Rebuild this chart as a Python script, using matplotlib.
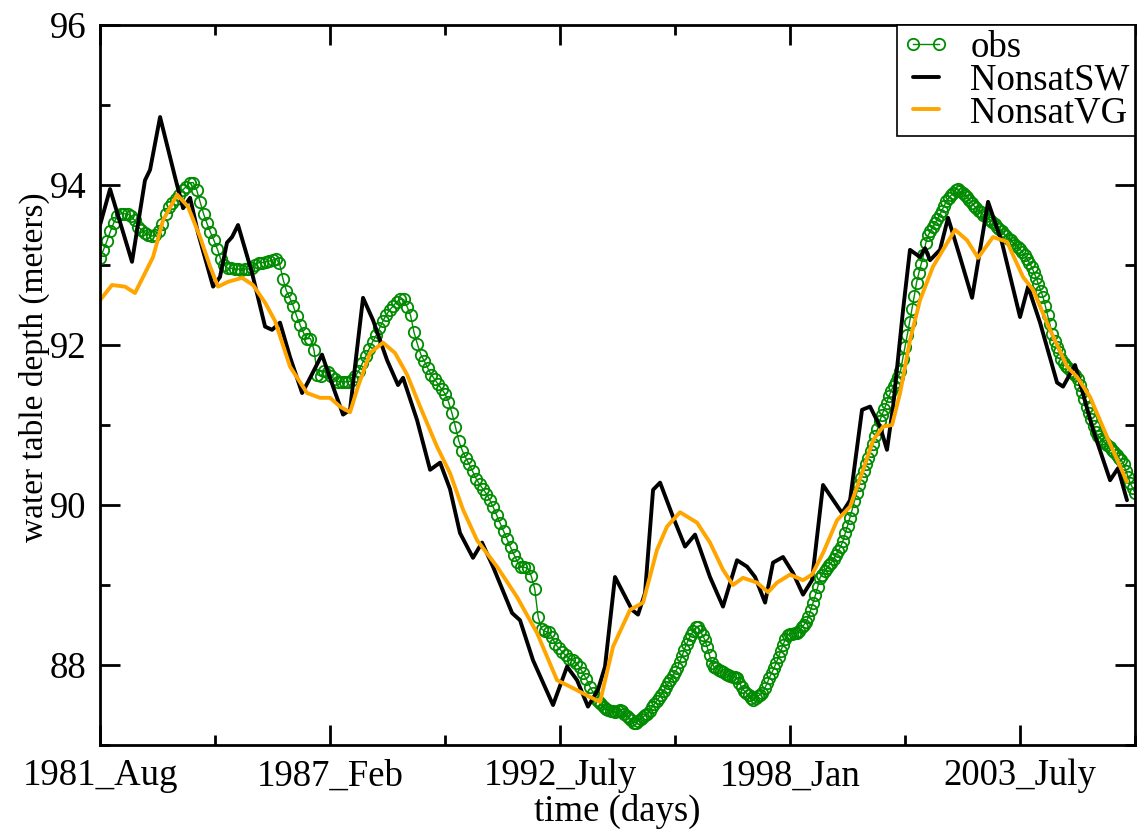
import numpy as np
import matplotlib
matplotlib.use('Agg')
import matplotlib.pyplot as plt
from matplotlib.ticker import MultipleLocator, FixedLocator

plt.rcParams['font.family'] = ['Liberation Serif', 'DejaVu Serif']

# observed water table depth: monthly readings first, then a denser record
obs_early_step = 30
obs_early = [
    93.09, 93.19, 93.30, 93.42, 93.53, 93.61, 93.64, 93.64, 93.64, 93.61,
    93.56, 93.48, 93.44, 93.40, 93.38, 93.36, 93.38, 93.42, 93.51, 93.64,
    93.72, 93.77, 93.83, 93.88, 93.94, 93.98, 94.03, 94.03, 93.94, 93.79,
    93.64, 93.52, 93.41, 93.31, 93.20, 93.07, 93.00, 92.96, 92.96, 92.95,
    92.95, 92.94, 92.95, 92.95, 92.96, 93.00, 93.03, 93.03, 93.04, 93.05,
    93.06, 93.08, 93.02, 92.83, 92.68, 92.59, 92.49, 92.36, 92.25, 92.15,
    92.08, 92.08, 91.94, 91.63, 91.61, 91.68, 91.66, 91.61, 91.57, 91.54,
    91.54, 91.54, 91.54, 91.56, 91.61, 91.68, 91.77, 91.86, 91.95, 92.04,
    92.12, 92.21, 92.30, 92.38, 92.44, 92.49, 92.54, 92.57, 92.57, 92.48,
    92.37, 92.16, 92.01, 91.88, 91.80, 91.71, 91.63, 91.57, 91.51, 91.45,
    91.39, 91.29, 91.15, 90.98, 90.80, 90.68, 90.59, 90.51, 90.42, 90.33,
    90.26, 90.20, 90.14, 90.06, 89.97, 89.87, 89.77, 89.67, 89.57, 89.47,
    89.38, 89.29, 89.23, 89.22, 89.21, 89.11, 88.95, 88.60, 88.45, 88.42,
    88.41, 88.35, 88.26, 88.21, 88.16, 88.12, 88.08, 88.06, 88.03, 87.97,
    87.90, 87.82, 87.73, 87.65, 87.56,
]
obs_late_start = 4340
obs_late_step = 20
obs_late = [
    87.54, 87.51, 87.48, 87.45, 87.44, 87.43, 87.42, 87.41, 87.42, 87.44,
    87.42, 87.39, 87.36, 87.34, 87.31, 87.28, 87.28, 87.30, 87.33, 87.35,
    87.37, 87.39, 87.43, 87.47, 87.51, 87.55, 87.59, 87.63, 87.67, 87.72,
    87.77, 87.81, 87.86, 87.91, 87.96, 88.04, 88.11, 88.19, 88.26, 88.33,
    88.38, 88.43, 88.47, 88.48, 88.42, 88.37, 88.31, 88.22, 88.12, 88.03,
    87.97, 87.96, 87.94, 87.92, 87.91, 87.89, 87.87, 87.86, 87.85, 87.85,
    87.84, 87.78, 87.72, 87.68, 87.65, 87.62, 87.59, 87.56, 87.59, 87.61,
    87.63, 87.65, 87.71, 87.77, 87.84, 87.90, 87.96, 88.03, 88.10, 88.18,
    88.25, 88.33, 88.38, 88.39, 88.39, 88.40, 88.40, 88.43, 88.47, 88.50,
    88.54, 88.60, 88.69, 88.78, 88.87, 88.97, 89.09, 89.13, 89.17, 89.21,
    89.25, 89.28, 89.33, 89.38, 89.43, 89.48, 89.55, 89.65, 89.74, 89.84,
    89.94, 90.05, 90.15, 90.25, 90.34, 90.42, 90.51, 90.59, 90.67, 90.76,
    90.86, 90.95, 91.05, 91.13, 91.20, 91.28, 91.36, 91.43, 91.49, 91.54,
    91.60, 91.67, 91.83, 91.98, 92.13, 92.29, 92.45, 92.61, 92.78, 92.90,
    93.01, 93.12, 93.27, 93.37, 93.42, 93.47, 93.52, 93.57, 93.62, 93.68,
    93.74, 93.80, 93.84, 93.87, 93.90, 93.94, 93.95, 93.92, 93.90, 93.87,
    93.85, 93.81, 93.78, 93.74, 93.71, 93.68, 93.66, 93.63, 93.61, 93.58,
    93.56, 93.54, 93.51, 93.48, 93.45, 93.42, 93.39, 93.36, 93.33, 93.31,
    93.28, 93.25, 93.23, 93.20, 93.16, 93.12, 93.08, 93.03, 92.98, 92.91,
    92.84, 92.76, 92.68, 92.60, 92.49, 92.37, 92.26, 92.14, 92.05, 91.98,
    91.91, 91.83, 91.77, 91.74, 91.71, 91.68, 91.65, 91.62, 91.58, 91.50,
    91.41, 91.32, 91.23, 91.15, 91.07, 90.99, 90.91, 90.86, 90.83, 90.80,
    90.78, 90.75, 90.72, 90.69, 90.66, 90.63, 90.59, 90.56, 90.51, 90.43,
    90.35, 90.27, 90.21, 90.15,
]

# NonsatSW model run
sw_day = [
    0, 87, 278, 391, 435, 522, 652, 722, 783, 852, 983, 1043, 1104, 1148,
    1200, 1322, 1435, 1496, 1565, 1652, 1757, 1809, 1930, 2026, 2113, 2174,
    2217, 2287, 2374, 2496, 2591, 2635, 2757, 2870, 2957, 3043, 3130, 3243,
    3322, 3417, 3583, 3652, 3765, 3939, 4061, 4148, 4243, 4330, 4391, 4478,
    4626, 4678, 4739, 4809, 4870, 4983, 5087, 5174, 5304, 5417, 5539, 5626,
    5696, 5783, 5852, 5939, 6026, 6113, 6191, 6287, 6452, 6522, 6626, 6696,
    6783, 6843, 6896, 6983, 7043, 7130, 7174, 7217, 7304, 7374, 7478, 7583,
    7722, 7843, 8000, 8070, 8174, 8322, 8374, 8478, 8635, 8783, 8852, 8930,
]
sw_depth = [
    93.50, 93.95, 93.04, 94.06, 94.19, 94.85, 94.10, 93.71, 93.84, 93.40,
    92.73, 92.85, 93.28, 93.35, 93.50, 92.90, 92.23, 92.19, 92.28, 91.85,
    91.40, 91.54, 91.88, 91.48, 91.13, 91.19, 91.73, 92.59, 92.31, 91.81,
    91.50, 91.59, 91.06, 90.44, 90.53, 90.20, 89.65, 89.34, 89.53, 89.23,
    88.65, 88.56, 88.06, 87.50, 87.98, 87.81, 87.48, 87.69, 87.98, 89.10,
    88.69, 88.63, 88.90, 90.19, 90.28, 89.85, 89.48, 89.63, 89.10, 88.73,
    89.31, 89.23, 89.10, 88.78, 89.28, 89.35, 89.15, 88.88, 89.06, 90.25,
    89.90, 90.06, 91.19, 91.23, 90.98, 90.69, 91.23, 92.44, 93.19, 93.10,
    93.21, 93.06, 93.19, 93.59, 93.10, 92.59, 93.79, 93.28, 92.35, 92.73,
    92.28, 91.53, 91.48, 91.75, 90.94, 90.31, 90.46, 90.06,
]

# NonsatVG model run
vg_day = [
    0, 104, 217, 304, 374, 461, 548, 670, 765, 870, 957, 1026, 1113, 1235,
    1330, 1435, 1522, 1652, 1800, 1913, 2000, 2087, 2174, 2243, 2348, 2461,
    2565, 2670, 2783, 2930, 3043, 3157, 3278, 3452, 3626, 3800, 3974, 4087,
    4261, 4348, 4461, 4609, 4722, 4843, 4930, 5043, 5191, 5304, 5417, 5504,
    5591, 5713, 5809, 5887, 6000, 6113, 6191, 6287, 6409, 6522, 6635, 6722,
    6809, 6887, 6957, 7043, 7130, 7243, 7330, 7435, 7539, 7635, 7765, 7887,
    8026, 8113, 8261, 8409, 8496, 8609, 8757, 8930,
]
vg_depth = [
    92.56, 92.75, 92.73, 92.65, 92.85, 93.10, 93.56, 93.88, 93.73, 93.35,
    92.98, 92.73, 92.79, 92.84, 92.75, 92.53, 92.30, 91.73, 91.40, 91.34,
    91.34, 91.23, 91.16, 91.48, 91.90, 92.03, 91.90, 91.63, 91.23, 90.73,
    90.40, 89.94, 89.56, 89.23, 88.85, 88.40, 87.81, 87.73, 87.60, 87.54,
    88.23, 88.69, 88.78, 89.44, 89.73, 89.91, 89.78, 89.53, 89.19, 89.00,
    89.09, 89.03, 88.91, 89.03, 89.13, 89.06, 89.13, 89.40, 89.81, 89.98,
    90.44, 90.81, 90.98, 91.00, 91.40, 92.06, 92.56, 92.98, 93.19, 93.44,
    93.31, 93.09, 93.35, 93.29, 92.85, 92.69, 92.19, 91.73, 91.60, 91.35,
    90.85, 90.29,
]

tick_days = [0, 2000, 4000, 6000, 8000]
tick_names = ['1981_Aug', '1987_Feb', '1992_July', '1998_Jan', '2003_July']

obs_day = np.concatenate([
    obs_early_step * np.arange(len(obs_early)),
    obs_late_start + obs_late_step * np.arange(len(obs_late)),
])
obs_depth = np.array(obs_early + obs_late)

fig = plt.figure(figsize=(11.42, 8.34), dpi=100)
ax = fig.add_axes([0.0876, 0.1067, 0.9063, 0.8633])

ax.plot(obs_day, obs_depth, color='#008b00', lw=1.0, marker='o', ms=8.2,
        mfc='none', mec='#008b00', mew=1.3, label='obs')
ax.plot(sw_day, sw_depth, color='black', lw=2.8, label='NonsatSW',
        solid_joinstyle='round', solid_capstyle='round')
ax.plot(vg_day, vg_depth, color='#ffa500', lw=2.8, label='NonsatVG',
        solid_joinstyle='round', solid_capstyle='round')

ax.set_xlim(0, 9000)
ax.set_ylim(87, 96)
ax.xaxis.set_major_locator(FixedLocator(tick_days))
ax.set_xticklabels(tick_names)
ax.xaxis.set_minor_locator(MultipleLocator(1000))
ax.yaxis.set_major_locator(MultipleLocator(2))
ax.yaxis.set_minor_locator(MultipleLocator(1))

ax.tick_params(which='both', direction='in', top=True, right=True,
               width=2, labelsize=26.5)
ax.tick_params(which='major', length=14.5, pad=10)
ax.tick_params(which='minor', length=7.2)
for sp in ax.spines.values():
    sp.set_linewidth(2)

ax.set_xlabel('time (days)', fontsize=26.5, labelpad=0)
ax.set_ylabel('water table depth (meters)', fontsize=24)
ax.yaxis.set_label_coords(-0.048, 0.525)

leg = ax.legend(loc='upper right', fontsize=26.5, numpoints=2, fancybox=False,
                borderaxespad=0, handlelength=1.3, handletextpad=0.55,
                labelspacing=-0.05, borderpad=0.15, framealpha=1)
leg.get_frame().set_edgecolor('black')
leg.get_frame().set_linewidth(1.2)

fig.savefig('out.png', dpi=100)
